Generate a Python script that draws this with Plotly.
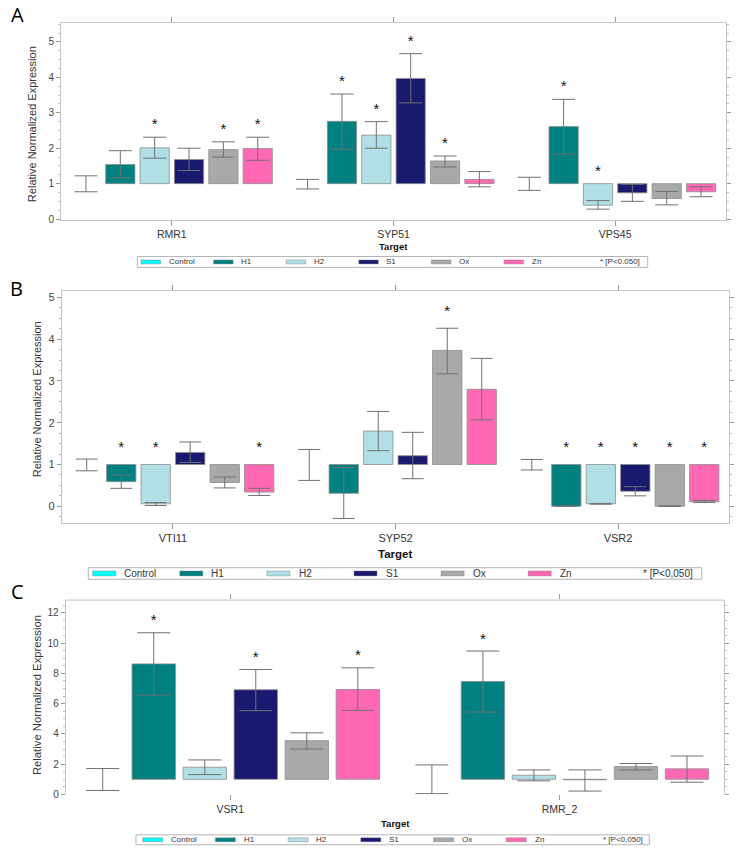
import plotly.graph_objects as go

W, H = 741, 859

SERIES = ["Control", "H1", "H2", "S1", "Ox", "Zn"]
COLORS = ["#00FFFF", "#008080", "#B0E0E6", "#191970", "#A9A9A9", "#FF69B4"]

# Panel A
A_TARGETS = ["RMR1", "SYP51", "VPS45"]
A_MEAN = {"Control": [1, 1, 1], "H1": [1.54, 2.76, 2.61], "H2": [2.01, 2.37, 0.39],
          "S1": [1.68, 3.97, 0.74], "Ox": [1.96, 1.64, 0.58], "Zn": [1.99, 1.12, 0.77]}
A_UPPER = {"Control": [1.22, 1.12, 1.18], "H1": [1.93, 3.53, 3.38], "H2": [2.31, 2.75, 0.52],
           "S1": [2.00, 4.67, 0.98], "Ox": [2.18, 1.78, 0.78], "Zn": [2.31, 1.34, 0.91]}
A_LOWER = {"Control": [0.77, 0.85, 0.81], "H1": [1.16, 1.97, 1.83], "H2": [1.72, 2.00, 0.28],
           "S1": [1.37, 3.28, 0.50], "Ox": [1.75, 1.47, 0.40], "Zn": [1.66, 0.91, 0.63]}
A_SIG = {"Control": [0, 0, 0], "H1": [0, 1, 1], "H2": [1, 1, 1],
         "S1": [0, 1, 0], "Ox": [1, 1, 0], "Zn": [1, 0, 0]}

# Panel B
B_TARGETS = ["VTI11", "SYP52", "VSR2"]
B_MEAN = {"Control": [1, 1, 1], "H1": [0.59, 0.31, 0.0], "H2": [0.06, 1.80, 0.06],
          "S1": [1.29, 1.21, 0.36], "Ox": [0.57, 3.73, 0.0], "Zn": [0.34, 2.80, 0.11]}
B_UPPER = {"Control": [1.13, 1.36, 1.12], "H1": [0.75, 0.93, 0.01], "H2": [0.09, 2.27, 0.07],
           "S1": [1.54, 1.77, 0.47], "Ox": [0.70, 4.26, 0.01], "Zn": [0.43, 3.54, 0.14]}
B_LOWER = {"Control": [0.85, 0.62, 0.87], "H1": [0.43, -0.29, 0.0], "H2": [0.02, 1.33, 0.05],
           "S1": [1.05, 0.66, 0.25], "Ox": [0.44, 3.17, 0.0], "Zn": [0.26, 2.07, 0.09]}
B_SIG = {"Control": [0, 0, 0], "H1": [1, 0, 1], "H2": [1, 0, 1],
         "S1": [0, 0, 1], "Ox": [0, 1, 1], "Zn": [1, 0, 1]}

# Panel C
C_TARGETS = ["VSR1", "RMR_2"]
C_MEAN = {"Control": [1, 1], "H1": [8.63, 7.47], "H2": [1.80, 1.27],
          "S1": [6.92, 0.97], "Ox": [3.55, 1.84], "Zn": [6.94, 1.69]}
C_UPPER = {"Control": [1.71, 1.95], "H1": [10.69, 9.48], "H2": [2.28, 1.62],
           "S1": [8.26, 1.62], "Ox": [4.07, 2.04], "Zn": [8.37, 2.54]}
C_LOWER = {"Control": [0.26, 0.05], "H1": [6.57, 5.45], "H2": [1.31, 0.90],
           "S1": [5.54, 0.22], "Ox": [3.00, 1.62], "Zn": [5.56, 0.81]}
C_SIG = {"Control": [0, 0], "H1": [1, 1], "H2": [0, 0],
         "S1": [1, 0], "Ox": [0, 0], "Zn": [1, 0]}

FONT = "Liberation Sans, Arial, sans-serif"


def px_x(x):
    return x / W


def px_y(y):
    return 1 - y / H


fig = go.Figure()


def add_panel(n, targets, mean, upper, lower, sig, cap, star_pad):
    xa = "x" if n == 1 else f"x{n}"
    ya = "y" if n == 1 else f"y{n}"
    for name, color in zip(SERIES, COLORS):
        m = mean[name]
        fig.add_trace(go.Bar(
            x=targets, y=[v - 1 for v in m], base=1,
            marker=dict(color=color,
                        line=dict(color="rgba(140,140,140,0.8)",
                                  width=0 if name == "Control" else 1)),
            error_y=dict(type="data", symmetric=False,
                         array=[u - v for u, v in zip(upper[name], m)],
                         arrayminus=[v - l for v, l in zip(m, lower[name])],
                         color="#707070", thickness=1, width=cap),
            xaxis=xa, yaxis=ya, showlegend=False, name=name, hoverinfo="skip"))
    # significance stars sit just above the upper whisker (or above the base for down bars)
    for name in SERIES:
        fig.add_trace(go.Scatter(
            x=targets, y=[max(u, 1) + star_pad for u in upper[name]],
            mode="text", text=["*" if s else "" for s in sig[name]],
            textposition="top center",
            textfont=dict(size=15, color="#111", family=FONT),
            xaxis=xa, yaxis=ya, showlegend=False, hoverinfo="skip"))


add_panel(1, A_TARGETS, A_MEAN, A_UPPER, A_LOWER, A_SIG, 11.5, 0.12)
add_panel(2, B_TARGETS, B_MEAN, B_UPPER, B_LOWER, B_SIG, 11, 0.2)
add_panel(3, C_TARGETS, C_MEAN, C_UPPER, C_LOWER, C_SIG, 16.5, 0.25)

yaxis_common = dict(showline=True, linecolor="#c4c4c4", mirror="allticks",
                    ticks="outside", ticklen=4, tickcolor="#9a9a9a",
                    showgrid=False, zeroline=False,
                    tickfont=dict(size=10, color="#444", family=FONT))
xaxis_common = dict(type="category", showline=True, linecolor="#c4c4c4", mirror="allticks",
                    ticks="outside", ticklen=5, tickcolor="#9a9a9a",
                    showgrid=False, zeroline=False,
                    tickfont=dict(size=10.5, color="#333", family=FONT))

fig.update_layout(
    width=W, height=H,
    margin=dict(l=0, r=0, t=0, b=0),
    plot_bgcolor="white", paper_bgcolor="white",
    barmode="group", bargap=0.07, bargroupgap=0.15,
    scattermode="group",
    xaxis=dict(xaxis_common, domain=[px_x(61), px_x(726)], anchor="y"),
    yaxis=dict(yaxis_common, domain=[px_y(221.3), px_y(23)], range=[-0.02, 5.54],
               dtick=1, minor=dict(ticks="outside", ticklen=2, dtick=0.25, tickcolor="#bbb"),
               anchor="x"),
    xaxis2=dict(xaxis_common, domain=[px_x(61.7), px_x(729.3)], anchor="y2",
                tickfont=dict(size=11, color="#333", family=FONT)),
    yaxis2=dict(yaxis_common, domain=[px_y(526.7), px_y(292.7)], range=[-0.40, 5.16],
                dtick=1, minor=dict(ticks="outside", ticklen=2, dtick=0.25, tickcolor="#bbb"),
                anchor="x2", tickfont=dict(size=11, color="#444", family=FONT)),
    xaxis3=dict(xaxis_common, domain=[px_x(65.7), px_x(724)], anchor="y3", showline=False),
    yaxis3=dict(yaxis_common, domain=[px_y(800), px_y(604.3)], range=[0, 12.85],
                dtick=2, minor=dict(ticks="outside", ticklen=2, dtick=0.5, tickcolor="#bbb"),
                anchor="x3"),
)

# top border of panel C (no bottom line there)
fig.add_shape(type="line", xref="x3 domain", yref="y3 domain", x0=0, x1=1, y0=1, y1=1,
              line=dict(color="#c4c4c4", width=1))

annotations = []


def text_at(x, y, text, size, bold=False, angle=0, family=FONT, color="#222", xanchor="center"):
    annotations.append(dict(
        x=px_x(x), y=px_y(y), xref="paper", yref="paper", showarrow=False,
        text=f"<b>{text}</b>" if bold else text, textangle=angle,
        xanchor=xanchor, yanchor="middle",
        font=dict(size=size, family=family, color=color)))


# panel letters
text_at(17, 15, "A", 20, family="Open Sans, sans-serif", color="#000")
text_at(16, 291, "B", 20, family="Open Sans, sans-serif", color="#000")
text_at(17, 596, "C", 20, family="Open Sans, sans-serif", color="#000")

# y titles
text_at(32, 125, "Relative Normalized Expression", 11, angle=-90, color="#333")
text_at(37, 402, "Relative Normalized Expression", 11, angle=-90, color="#333")
text_at(37, 700, "Relative Normalized Expression", 11.3, angle=-90, color="#333")

# x titles
text_at(393, 248, "Target", 9.5, bold=True, color="#111")
text_at(395, 558, "Target", 11.5, bold=True, color="#111")
text_at(395, 829, "Target", 9.5, bold=True, color="#111")


def draw_legend(box, first, step, sw, sh, toff, size, ptext, pend):
    x0, x1, y0, y1 = box
    fig.add_shape(type="rect", xref="paper", yref="paper",
                  x0=px_x(x0), x1=px_x(x1), y0=px_y(y1), y1=px_y(y0),
                  line=dict(color="#b5b5b5", width=1), fillcolor="white")
    ym = (y0 + y1) / 2
    for i, (name, color) in enumerate(zip(SERIES, COLORS)):
        sx = first + i * step
        fig.add_shape(type="rect", xref="paper", yref="paper",
                      x0=px_x(sx), x1=px_x(sx + sw), y0=px_y(ym + sh / 2), y1=px_y(ym - sh / 2),
                      line=dict(color="rgba(120,120,120,0.7)", width=0.6), fillcolor=color)
        text_at(sx + toff, ym, name, size, xanchor="left", color="#333")
    text_at(pend, ym, ptext, size, xanchor="right", color="#333")


draw_legend((137.3, 647.7, 258.3, 269.3), 141, 72.6, 19.5, 4, 25.7, 8, "* [P&lt;0.050]", 642)
draw_legend((88.3, 701.7, 571.7, 583.3), 92.7, 87.1, 23, 5, 29.6, 10, "* [P&lt;0,050]", 695)
draw_legend((136, 649.3, 840.7, 850.7), 142.7, 72.7, 20, 4, 26.3, 8, "* [P&lt;0,050]", 645)

fig.update_layout(annotations=annotations)

fig.write_html("out.html", config={"displayModeBar": False},
               post_script="document.body.style.margin='0';")
